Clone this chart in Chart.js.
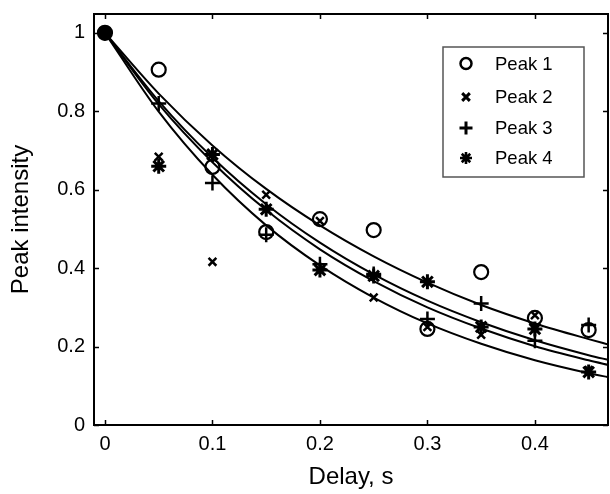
<!DOCTYPE html>
<html><head><meta charset="utf-8">
<script src="https://cdn.jsdelivr.net/npm/chart.js@4.4.0/dist/chart.umd.min.js"></script>
<style>html,body{margin:0;padding:0;background:#fff;}#wrap{width:610px;height:494px;}</style>
</head><body><div id="wrap"><canvas id="c" width="610" height="494"></canvas></div>
<script>
const delays = [0, 0.05, 0.1, 0.15, 0.2, 0.25, 0.3, 0.35, 0.4, 0.45];
const peak1 = [1, 0.906, 0.658, 0.492, 0.525, 0.497, 0.245, 0.39, 0.273, 0.242];
const peak2 = [1, 0.684, 0.416, 0.587, 0.52, 0.325, 0.25, 0.23, 0.28, 0.14];
const peak3 = [1, 0.82, 0.617, 0.485, 0.41, 0.385, 0.27, 0.31, 0.215, 0.255];
const peak4 = [1, 0.66, 0.69, 0.55, 0.395, 0.38, 0.365, 0.25, 0.245, 0.135];
const seriesNames = ['Peak 1', 'Peak 2', 'Peak 3', 'Peak 4'];
const fitDelays = [0, 0.05, 0.1, 0.15, 0.2, 0.25, 0.3, 0.35, 0.4, 0.45, 0.47];
const fit1 = [1, 0.845, 0.713, 0.602, 0.509, 0.430, 0.363, 0.306, 0.259, 0.219, 0.204];
const fit2 = [1, 0.826, 0.682, 0.563, 0.465, 0.384, 0.317, 0.262, 0.216, 0.178, 0.165];
const fit3 = [1, 0.818, 0.670, 0.548, 0.448, 0.367, 0.300, 0.246, 0.201, 0.165, 0.152];
const fit4 = [1, 0.799, 0.638, 0.509, 0.407, 0.325, 0.259, 0.207, 0.165, 0.132, 0.121];
const xTicks = [0, 0.1, 0.2, 0.3, 0.4];
const yTicks = [0, 0.2, 0.4, 0.6, 0.8, 1];
const xTitle = 'Delay, s';
const yTitle = 'Peak intensity';

const FONT = "'Liberation Sans', Arial, Helvetica, sans-serif";
const pts = (xs, ys) => xs.map((x, i) => ({x: x, y: ys[i]}));

const markerStyles = [
  {pointStyle: 'circle', radius: 7, borderWidth: 2.2, lr: 5.5, lw: 2.5},
  {pointStyle: 'crossRot', radius: 5.5, borderWidth: 2.5, lr: 4.5, lw: 3},
  {pointStyle: 'cross', radius: 7.5, borderWidth: 2.5, lr: 6.5, lw: 3},
  {pointStyle: 'star', radius: 7.5, borderWidth: 3, lr: 6, lw: 2.6}
];
const peakSeries = [peak1, peak2, peak3, peak4];
const fitSeries = [fit1, fit2, fit3, fit4];

const datasets = [];
peakSeries.forEach((vals, i) => {
  const m = markerStyles[i];
  datasets.push({
    type: 'scatter',
    label: seriesNames[i],
    data: pts(delays, vals),
    showLine: false,
    pointStyle: m.pointStyle,
    pointRadius: m.radius,
    pointBorderWidth: m.borderWidth,
    pointBorderColor: '#000',
    pointBackgroundColor: i === 0 ? vals.map((v, k) => k === 0 ? '#000' : 'rgba(0,0,0,0)') : 'rgba(0,0,0,0)',
    borderColor: '#000'
  });
});
fitSeries.forEach((vals, i) => {
  datasets.push({
    type: 'line',
    label: seriesNames[i] + ' fit',
    data: pts(fitDelays, vals),
    borderColor: '#000',
    borderWidth: 2,
    pointRadius: 0,
    fill: false,
    cubicInterpolationMode: 'monotone',
    clip: 0
  });
});

function drawMarker(ctx, style, r, lw, x, y) {
  ctx.save();
  ctx.strokeStyle = '#000'; ctx.fillStyle = '#000'; ctx.lineWidth = lw;
  ctx.beginPath();
  if (style === 'circle') {
    ctx.arc(x, y, r, 0, Math.PI * 2);
  } else if (style === 'crossRot') {
    const d = r * Math.SQRT1_2 * 1.2;
    ctx.moveTo(x - d, y - d); ctx.lineTo(x + d, y + d);
    ctx.moveTo(x - d, y + d); ctx.lineTo(x + d, y - d);
  } else if (style === 'cross') {
    ctx.moveTo(x - r, y); ctx.lineTo(x + r, y);
    ctx.moveTo(x, y - r); ctx.lineTo(x, y + r);
  } else if (style === 'star') {
    for (let k = 0; k < 4; k++) {
      const a = k * Math.PI / 4;
      ctx.moveTo(x - r * Math.cos(a), y - r * Math.sin(a));
      ctx.lineTo(x + r * Math.cos(a), y + r * Math.sin(a));
    }
  }
  ctx.stroke();
  ctx.restore();
}

const framePlugin = {
  id: 'frame',
  afterDatasetsDraw(chart) {
    const {ctx, chartArea: a} = chart;
    const xs = chart.scales.x, ys = chart.scales.y;
    ctx.save();
    ctx.strokeStyle = '#000';
    ctx.lineWidth = 2;
    ctx.strokeRect(a.left, a.top, a.right - a.left, a.bottom - a.top);
    ctx.beginPath();
    const tl = 5;
    xTicks.forEach(v => {
      const p = Math.round(xs.getPixelForValue(v)) + 0.5;
      ctx.moveTo(p, a.bottom); ctx.lineTo(p, a.bottom - tl);
      ctx.moveTo(p, a.top); ctx.lineTo(p, a.top + tl);
    });
    yTicks.forEach(v => {
      const p = Math.round(ys.getPixelForValue(v)) + 0.5;
      ctx.moveTo(a.left, p); ctx.lineTo(a.left + tl, p);
      ctx.moveTo(a.right, p); ctx.lineTo(a.right - tl, p);
    });
    ctx.lineWidth = 1.5;
    ctx.stroke();

    // legend box
    const L = {left: 443, top: 47, right: 584, bottom: 177};
    ctx.fillStyle = '#fff';
    ctx.fillRect(L.left, L.top, L.right - L.left, L.bottom - L.top);
    ctx.strokeStyle = '#555';
    ctx.lineWidth = 1.5;
    ctx.strokeRect(L.left, L.top, L.right - L.left, L.bottom - L.top);
    const rows = [63.5, 97, 128, 158];
    ctx.font = "18.5px " + FONT;
    ctx.textBaseline = 'middle';
    ctx.textAlign = 'left';
    seriesNames.forEach((name, i) => {
      const m = markerStyles[i];
      drawMarker(ctx, m.pointStyle, m.lr, m.lw, 466, rows[i]);
      ctx.fillStyle = '#000';
      ctx.fillText(name, 495, rows[i] + 1);
    });
    ctx.restore();
  }
};

new Chart(document.getElementById('c'), {
  data: {datasets: datasets},
  options: {
    responsive: false,
    animation: false,
    devicePixelRatio: 1,
    layout: {autoPadding: false, padding: {top: 14, right: 2, left: 0, bottom: 0}},
    plugins: {legend: {display: false}, tooltip: {enabled: false}},
    scales: {
      x: {
        type: 'linear', min: -0.0102, max: 0.468,
        grid: {display: false, drawTicks: false},
        border: {display: false},
        afterBuildTicks: s => { s.ticks = xTicks.map(v => ({value: v})); },
        afterFit: s => { s.height = 69; s.paddingLeft = 0; s.paddingRight = 0; },
        ticks: {color: '#000', font: {family: FONT, size: 20}, padding: 7,
                callback: v => String(+(+v).toFixed(2))},
        title: {display: true, text: xTitle, color: '#000', font: {family: FONT, size: 24},
                padding: {top: 0, bottom: 2}}
      },
      y: {
        type: 'linear', min: 0, max: 1.048,
        grid: {display: false, drawTicks: false},
        border: {display: false},
        afterBuildTicks: s => { s.ticks = yTicks.map(v => ({value: v})); },
        afterFit: s => { s.width = 94; s.paddingTop = 0; s.paddingBottom = 0; },
        ticks: {color: '#000', font: {family: FONT, size: 20}, padding: 9,
                callback: v => String(+(+v).toFixed(2))},
        title: {display: true, text: yTitle, color: '#000', font: {family: FONT, size: 24},
                padding: {top: 7, bottom: 0}}
      }
    }
  },
  plugins: [framePlugin]
});
</script>
</body></html>
